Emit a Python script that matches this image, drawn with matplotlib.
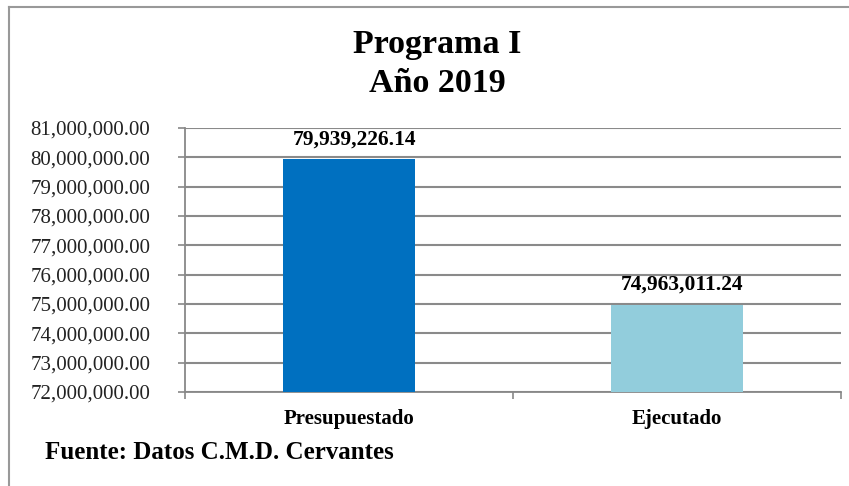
import numpy as np
import matplotlib.pyplot as plt
from matplotlib.lines import Line2D

# data
categories = ["Presupuestado", "Ejecutado"]
values = [79939226.14, 74963011.24]
bar_colors = ["#0070C0", "#92CDDC"]
y_ticks = np.arange(72000000, 81000001, 1000000)

plt.rcParams['font.family'] = ['Liberation Serif', 'DejaVu Serif']

fig = plt.figure(figsize=(8.49, 4.86), dpi=100)
ax = fig.add_axes([185/849, 1 - 392/486, (841 - 185)/849, (392 - 128)/486])

x = np.arange(len(categories))
bars = ax.bar(x, values, width=0.4, color=bar_colors, zorder=3)

ax.set_ylim(72000000, 81000000)
ax.set_xlim(-0.5, len(categories) - 0.5)
ax.set_yticks(y_ticks)
ax.set_yticklabels([f"{v:,.2f}" for v in y_ticks], fontsize=15, color="#222222")
ax.tick_params(axis='y', length=5, width=1.2, color="#888888", pad=20)

# category labels at centres, tick marks at the boundaries
ax.set_xticks(x)
ax.set_xticklabels(categories, fontsize=15, fontweight='bold')
ax.tick_params(axis='x', length=0, pad=12)
ax.set_xticks(np.arange(-0.5, len(categories)), minor=True)
ax.tick_params(axis='x', which='minor', length=5, width=1.2, color="#888888")

ax.yaxis.grid(True, color="#8a8a8a", linewidth=1.5, zorder=0)
ax.set_axisbelow(True)
for s in ['top', 'right']:
    ax.spines[s].set_visible(False)
for s in ['left', 'bottom']:
    ax.spines[s].set_color("#888888")
    ax.spines[s].set_linewidth(1.3)

# value labels above bars
for xi, v in zip(x, values):
    ax.annotate(f"{v:,.2f}", (xi, v), xytext=(5, 20), textcoords='offset pixels',
                ha='center', va='center', fontsize=15.5, fontweight='bold')

fig.text(437/849, 1 - 45/486, "Programa I", ha='center', va='center',
         fontsize=24.5, fontweight='bold')
fig.text(437/849, 1 - 83/486, "Año 2019", ha='center', va='center',
         fontsize=24.5, fontweight='bold')
fig.text(45/849, 1 - 452/486, "Fuente: Datos C.M.D. Cervantes", ha='left', va='center',
         fontsize=18, fontweight='bold')

# outer chart border (only left and top are inside the picture)
fig.add_artist(Line2D([9/849, 9/849], [0, 1 - 7/486], color="#999999", linewidth=1.5))
fig.add_artist(Line2D([9/849, 1], [1 - 7/486, 1 - 7/486], color="#999999", linewidth=1.5))

fig.savefig("out.png", dpi=100)
